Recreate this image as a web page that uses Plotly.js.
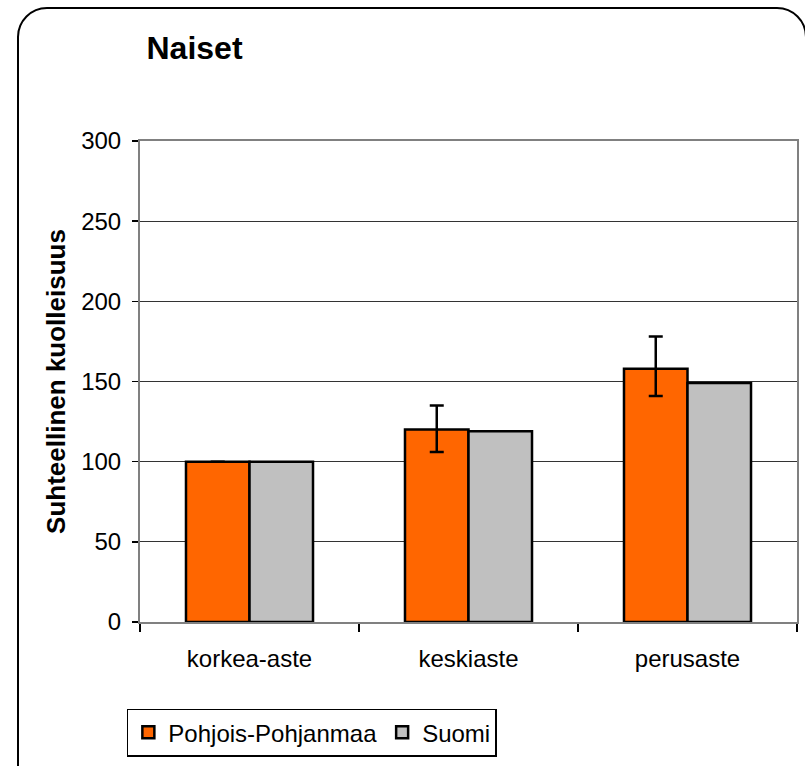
<!DOCTYPE html>
<html>
<head>
<meta charset="utf-8">
<script src="https://cdn.plot.ly/plotly-3.0.1.min.js"></script>
<style>
html,body{margin:0;padding:0;background:#fff;overflow:hidden;}
#frame{position:absolute;left:17px;top:7px;width:790px;height:820px;border:2px solid #000;border-radius:30px;box-sizing:border-box;}
#chart{position:absolute;left:0;top:0;width:805px;height:766px;}
</style>
</head>
<body>
<div id="frame"></div>
<div id="chart"></div>
<script>
const categories = ["korkea-aste", "keskiaste", "perusaste"];
const pohjoisValues = [100, 120, 158];
const pohjoisErrPlus = [0, 15, 20];
const pohjoisErrMinus = [0, 14, 17];
const suomiValues = [100, 119, 149];
const yTickVals = [0, 50, 100, 150, 200, 250, 300];

const font = "Liberation Sans, Arial, sans-serif";

const traces = [
  {
    type: "bar", name: "Pohjois-Pohjanmaa", x: categories, y: pohjoisValues,
    marker: {color: "#FF6600", line: {color: "#000", width: 2.5}},
    error_y: {type: "data", symmetric: false, array: pohjoisErrPlus, arrayminus: pohjoisErrMinus,
              color: "#000", thickness: 2.5, width: 7}
  },
  {
    type: "bar", name: "Suomi", x: categories, y: suomiValues,
    marker: {color: "#C0C0C0", line: {color: "#000", width: 2.5}}
  }
];

const layout = {
  width: 805, height: 766,
  paper_bgcolor: "rgba(0,0,0,0)", plot_bgcolor: "#fff",
  margin: {l: 140, r: 8, t: 141, b: 144},
  barmode: "group", bargap: 0.42, bargroupgap: 0,
  font: {family: font, size: 24, color: "#000"},
  title: {text: "<b>Naiset</b>", xref: "container", yref: "container", x: 0.182, xanchor: "left",
          y: 0.937, yanchor: "middle", font: {family: font, size: 32, color: "#000"}},
  xaxis: {
    type: "category", showline: true, linecolor: "#808080", linewidth: 2, mirror: true,
    ticks: "outside", tickson: "boundaries", ticklen: 8, tickcolor: "#000", tickwidth: 1.5,
    tickfont: {family: font, size: 24, color: "#000"}, ticklabelstandoff: 14,
    showgrid: false, zeroline: false, fixedrange: true
  },
  yaxis: {
    range: [0, 300], tickmode: "array", tickvals: yTickVals,
    showline: true, linecolor: "#808080", linewidth: 2, mirror: true,
    ticks: "outside", ticklen: 6, tickcolor: "#000", tickwidth: 1.5,
    tickfont: {family: font, size: 24, color: "#000"}, ticklabelstandoff: 6,
    showgrid: true, gridcolor: "#333", gridwidth: 1, zeroline: false,
    title: {text: "<b>Suhteellinen kuolleisuus</b>", font: {family: font, size: 26, color: "#000"}, standoff: 8}
  },
  showlegend: true,
  legend: {
    orientation: "h", x: -0.02, xanchor: "left", y: -0.18, yanchor: "top",
    bordercolor: "#000", borderwidth: 1.5, bgcolor: "#fff",
    font: {family: font, size: 24, color: "#000"},
    itemwidth: 30, tracegroupgap: 0, traceorder: "normal"
  }
};

Plotly.newPlot("chart", traces, layout, {displayModeBar: false, staticPlot: true});
</script>
</body>
</html>
